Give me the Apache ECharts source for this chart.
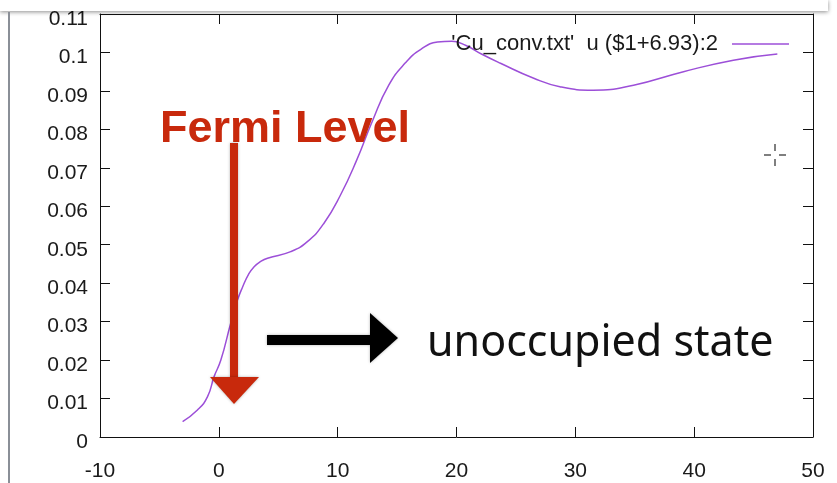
<!DOCTYPE html>
<html>
<head>
<meta charset="utf-8">
<script src="https://cdn.jsdelivr.net/npm/echarts@6/dist/echarts.min.js"></script>
<style>
  html, body { margin: 0; padding: 0; background: #fff; }
  #chart { width: 837px; height: 483px; }
</style>
</head>
<body>
<div id="chart"></div>
<script>
// energy (shifted by 6.93)
var energy = [-3.05, -1.8, -0.95, -0.4, 0.17, 1.0, 1.57, 2.0, 2.5, 2.97, 3.5, 4.1, 6.05, 7.45, 8.85, 10.25, 11.6, 12.9, 14.3, 15.7, 17.0, 18.4, 19.6, 20.8, 22.1, 23.7, 26.5, 28.7, 31.5, 34.9, 39.1, 43.3, 47]
var intensity = [0.004, 0.007, 0.0105, 0.0157, 0.02, 0.0296, 0.0356, 0.039, 0.0423, 0.0443, 0.0456, 0.0465, 0.0482, 0.0508, 0.0556, 0.063, 0.072, 0.082, 0.0915, 0.0973, 0.1008, 0.1027, 0.1029, 0.1018, 0.0996, 0.0972, 0.0933, 0.0911, 0.0902, 0.0915, 0.095, 0.098, 0.0996]
var seriesName = "'Cu_conv.txt'  u ($1+6.93):2"
var xRange = [-10, 50]
var yRange = [0, 0.11]

var red = '#c8290c'
var purple = '#9c4fd8'
var labelFont = { fontFamily: 'Liberation Sans', fontSize: 21, color: '#1a1a1a' }

var points = energy.map(function (x, i) { return [x, intensity[i]] })

var chart = echarts.init(document.getElementById('chart'))

// frame axis helper (gnuplot style: ticks inside, mirrored)
function frameAxis (extra) {
  return Object.assign({
    type: 'value',
    axisLine: { show: true, onZero: false, lineStyle: { color: '#111', width: 1 } },
    axisTick: { show: true, inside: true, length: 10, lineStyle: { color: '#111' } },
    splitLine: { show: false }
  }, extra)
}

var option = {
  animation: false,
  backgroundColor: '#fff',
  grid: { left: 100, right: 24, top: 14, bottom: 46 },
  legend: {
    data: [{ name: seriesName, icon: 'rect', itemStyle: { color: purple } }],
    right: 48,
    top: 33,
    padding: 0,
    align: 'right',
    itemWidth: 57,
    itemHeight: 1.5,
    textStyle: Object.assign({}, labelFont, { fontSize: 22, padding: [0, 9, 0, 0] })
  },
  xAxis: [
    frameAxis({ min: xRange[0], max: xRange[1], interval: 10, axisLabel: Object.assign({}, labelFont, { margin: 24 }) }),
    frameAxis({ position: 'top', min: xRange[0], max: xRange[1], interval: 10, axisLabel: { show: false } })
  ],
  yAxis: [
    frameAxis({
      min: yRange[0], max: yRange[1], interval: 0.01,
      axisLabel: {
        margin: 12,
        formatter: function (v) { return '{a|' + v + '}' },
        rich: { a: Object.assign({}, labelFont, { padding: [10, 0, 0, 0] }) }
      }
    }),
    frameAxis({ position: 'right', min: yRange[0], max: yRange[1], interval: 0.01, axisLabel: { show: false } })
  ],
  series: [
    {
      name: seriesName,
      type: 'line',
      data: points,
      smooth: 0.5,
      symbol: 'none',
      lineStyle: { color: purple, width: 1.5 },
      itemStyle: { color: purple }
    }
  ],
  graphic: [
    // screenshot edges
    { type: 'rect', shape: { x: 0, y: 0, width: 828, height: 11 }, style: { fill: '#fff', shadowBlur: 4, shadowColor: 'rgba(0,0,0,0.45)', shadowOffsetY: 1 }, z: 100 },
    { type: 'line', shape: { x1: 9, y1: 12, x2: 9, y2: 483 }, style: { stroke: '#8a8f97', lineWidth: 2 }, z: 100 },
    // cursor
    { type: 'line', shape: { x1: 764, y1: 155, x2: 771, y2: 155 }, style: { stroke: '#555', lineWidth: 1.5 }, z: 100 },
    { type: 'line', shape: { x1: 779, y1: 155, x2: 786, y2: 155 }, style: { stroke: '#555', lineWidth: 1.5 }, z: 100 },
    { type: 'line', shape: { x1: 775, y1: 144, x2: 775, y2: 151 }, style: { stroke: '#555', lineWidth: 1.5 }, z: 100 },
    { type: 'line', shape: { x1: 775, y1: 159, x2: 775, y2: 166 }, style: { stroke: '#555', lineWidth: 1.5 }, z: 100 },
    // Fermi level annotation
    {
      type: 'text', left: 160, top: 107, z: 100,
      style: { text: 'Fermi Level', fill: red, font: 'bold 45px "Liberation Sans"' }
    },
    { type: 'rect', shape: { x: 230, y: 143, width: 8, height: 236 }, style: { fill: red, shadowBlur: 3, shadowColor: 'rgba(0,0,0,0.3)' }, z: 100 },
    { type: 'polygon', shape: { points: [[210, 377], [259, 377], [234, 404]] }, style: { fill: red, shadowBlur: 3, shadowColor: 'rgba(0,0,0,0.3)' }, z: 100 },
    // unoccupied state annotation
    { type: 'rect', shape: { x: 267, y: 335, width: 105, height: 10 }, style: { fill: '#000', shadowBlur: 3, shadowColor: 'rgba(0,0,0,0.3)' }, z: 100 },
    { type: 'polygon', shape: { points: [[370, 313], [370, 363], [398, 338]] }, style: { fill: '#000', shadowBlur: 3, shadowColor: 'rgba(0,0,0,0.3)' }, z: 100 },
    {
      type: 'text', left: 427, top: 322, z: 100,
      style: { text: 'unoccupied state', fill: '#111', font: '43px "Noto Sans"' }
    }
  ]
}

chart.setOption(option)
</script>
</body>
</html>
